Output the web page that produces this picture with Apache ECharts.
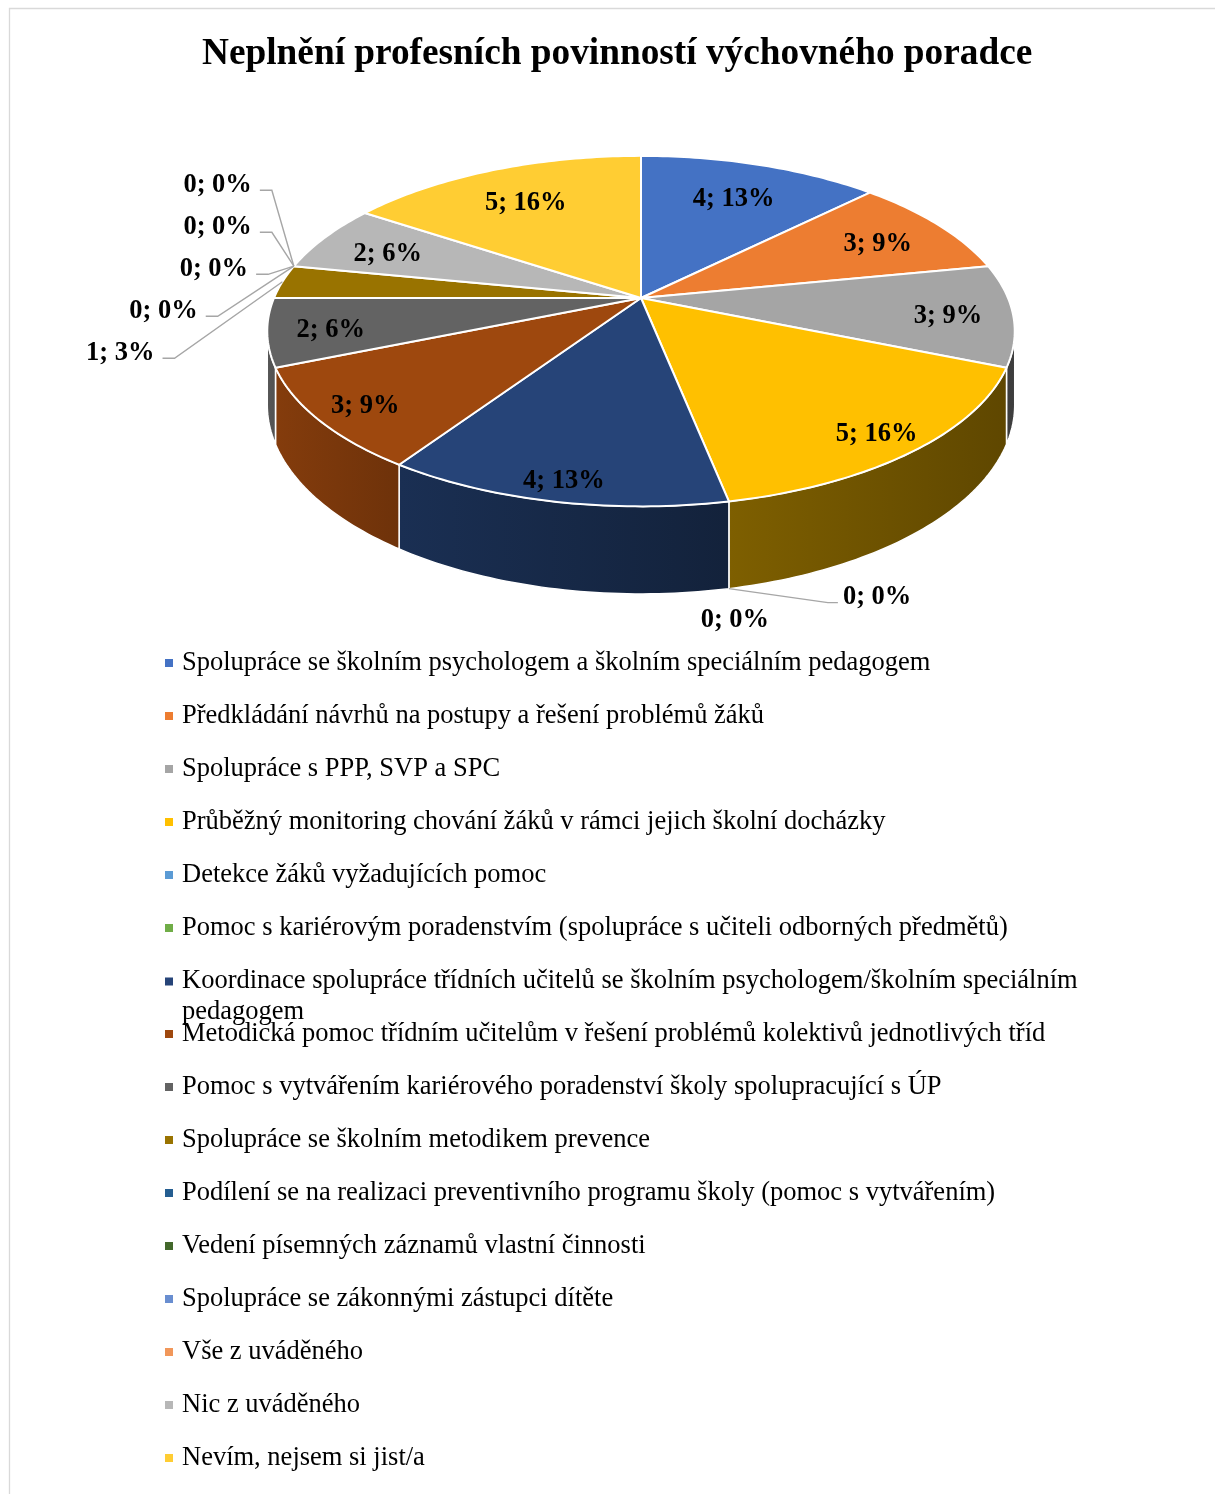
<!DOCTYPE html>
<html>
<head>
<meta charset="utf-8">
<script src="https://cdn.jsdelivr.net/npm/echarts@6/dist/echarts.min.js"></script>
<style>
  html, body { margin: 0; padding: 0; background: #fff; }
  #main { width: 1215px; height: 1494px; }
</style>
</head>
<body>
<div id="main"></div>
<script>
var categories = [
  'Spolupráce se školním psychologem a školním speciálním pedagogem',
  'Předkládání návrhů na postupy a řešení problémů žáků',
  'Spolupráce s PPP, SVP a SPC',
  'Průběžný monitoring chování žáků v rámci jejich školní docházky',
  'Detekce žáků vyžadujících pomoc',
  'Pomoc s kariérovým poradenstvím (spolupráce s učiteli odborných předmětů)',
  'Koordinace spolupráce třídních učitelů se školním psychologem/školním speciálním pedagogem',
  'Metodická pomoc třídním učitelům v řešení problémů kolektivů jednotlivých tříd',
  'Pomoc s vytvářením kariérového poradenství školy spolupracující s ÚP',
  'Spolupráce se školním metodikem prevence',
  'Podílení se na realizaci preventivního programu školy (pomoc s vytvářením)',
  'Vedení písemných záznamů vlastní činnosti',
  'Spolupráce se zákonnými zástupci dítěte',
  'Vše z uváděného',
  'Nic z uváděného',
  'Nevím, nejsem si jist/a'
];
var counts = [4, 3, 3, 5, 0, 0, 4, 3, 2, 1, 0, 0, 0, 0, 2, 5];
var palette = ['#4472C4', '#ED7D31', '#A5A5A5', '#FFC000', '#5B9BD5', '#70AD47', '#264478', '#9E480E',
  '#636363', '#997300', '#255E91', '#43682B', '#698ED0', '#F1975A', '#B7B7B7', '#FFCD33'];

var serif = "'Times New Roman', 'Liberation Serif', serif";
var myChart = echarts.init(document.getElementById('main'));

// 3D pie geometry (perspective tilted disc)
var CX = 641, CY = 298, RX = 367, RY = 169, PERSP = 0.189, DEPTH = 71;
function project(deg, r, z) {
  var t = deg * Math.PI / 180;
  var u = r * Math.sin(t), v = r * Math.cos(t);
  var w = 1 + PERSP * v;
  return [CX + RX * u / w, CY - RY * v / w + DEPTH * z / w];
}
function shade(hex, f) {
  var n = parseInt(hex.slice(1), 16);
  return 'rgb(' + Math.round(((n >> 16) & 255) * f) + ',' + Math.round(((n >> 8) & 255) * f) + ',' + Math.round((n & 255) * f) + ')';
}
function wallLight(deg) {
  var t = deg * Math.PI / 180;
  return 0.64 - 0.25 * Math.sin(t) + 0.1 * Math.cos(t);
}

var total = counts.reduce(function (a, b) { return a + b; }, 0);
var starts = [];
var acc = 0;
counts.forEach(function (v) { starts.push(acc / total * 360); acc += v; });
function labelText(v) { return v + '; ' + Math.round(v / total * 100) + '%'; }

// visible outer wall range
var wallFrom = Math.acos(-PERSP) * 180 / Math.PI;
var wallTo = 360 - wallFrom;

// small slices get outside labels with leader lines
var outerLabels = {};
var sideGroup = [], frontGroup = [];
counts.forEach(function (v, i) {
  if (v / total >= 0.04) return;
  var mid = starts[i] + v / total * 180;
  if (Math.cos(mid * Math.PI / 180) < -0.3) frontGroup.push({ i: i, anchor: project(mid, 1, 1) });
  else sideGroup.push({ i: i, anchor: project(mid, 1, 0) });
});
sideGroup.sort(function (a, b) { return b.i - a.i; });
var meanY = 0;
sideGroup.forEach(function (d) { meanY += d.anchor[1] / sideGroup.length; });
sideGroup.forEach(function (d, j) {
  var y = meanY + (j - (sideGroup.length - 1) / 2) * 42;
  var ex = d.anchor[0] - 22 - 1.2 * Math.max(0, y - d.anchor[1]);
  outerLabels[d.i] = { x: ex - 20, y: y, align: 'right', line: [d.anchor, [ex, y + 5], [ex - 12, y + 5]] };
});
frontGroup.forEach(function (d, j) {
  if (j === 0) {
    outerLabels[d.i] = { x: d.anchor[0] + 6, y: d.anchor[1] + 32, align: 'center', line: null };
  } else {
    var lx = d.anchor[0] + 114 + (j - 1) * 100, y = d.anchor[1] + 9;
    outerLabels[d.i] = { x: lx, y: y, align: 'left', line: [d.anchor, [lx - 15, y + 5], [lx - 5, y + 5]] };
  }
});

function renderWall(params, api) {
  var i = params.dataIndex;
  var v = api.value(1);
  var a0 = Math.max(starts[i], wallFrom), a1 = Math.min(starts[i] + v / total * 360, wallTo);
  if (!(v > 0) || a1 <= a0) return null;
  var pts = [];
  for (var d = a0; d < a1; d += 1) pts.push(project(d, 1, 0));
  pts.push(project(a1, 1, 0));
  for (var e = a1; e > a0; e -= 1) pts.push(project(e, 1, 1));
  pts.push(project(a0, 1, 1));
  var xl = project(a1, 1, 0)[0], xr = project(a0, 1, 0)[0];
  return {
    type: 'polygon',
    shape: { points: pts },
    style: {
      fill: new echarts.graphic.LinearGradient(xl, 0, xr, 0, [
        { offset: 0, color: shade(palette[i], wallLight(a1)) },
        { offset: 1, color: shade(palette[i], wallLight(a0)) }
      ], true),
      stroke: '#fff', lineWidth: 1.5, lineJoin: 'round'
    }
  };
}

function renderTop(params, api) {
  var i = params.dataIndex;
  var v = api.value(1);
  var children = [];
  var a0 = starts[i], a1 = starts[i] + v / total * 360;
  if (v > 0) {
    var pts = [[CX, CY]];
    for (var d = a0; d < a1; d += 1) pts.push(project(d, 1, 0));
    pts.push(project(a1, 1, 0));
    children.push({
      type: 'polygon',
      shape: { points: pts },
      style: { fill: palette[i], stroke: '#fff', lineWidth: 2, lineJoin: 'round' }
    });
  }
  var font = { fontFamily: serif, fontWeight: 'bold', fontSize: 26.5, fill: '#000', verticalAlign: 'middle' };
  var ol = outerLabels[i];
  if (ol) {
    if (ol.line) {
      children.push({
        type: 'polyline', z2: 5,
        shape: { points: ol.line },
        style: { stroke: '#a6a6a6', lineWidth: 1.4, fill: null }
      });
    }
    children.push({ type: 'text', x: ol.x, y: ol.y, z2: 10,
      style: echarts.util.extend({ text: labelText(v), align: ol.align }, font) });
  } else {
    var mid = (a0 + a1) / 2;
    var p = project(mid, 0.82 - 0.08 * Math.cos(mid * Math.PI / 180), 0);
    children.push({ type: 'text', x: p[0], y: p[1] + 4, z2: 10,
      style: echarts.util.extend({ text: labelText(v), align: 'center' }, font) });
  }
  return { type: 'group', children: children };
}

// wrap long legend names at word boundaries (max width like the original text box)
var measureCtx = document.createElement('canvas').getContext('2d');
measureCtx.font = '26.5px ' + serif;
function wrapName(name) {
  var words = name.split(' '), lines = [], cur = '';
  words.forEach(function (w) {
    var t = cur ? cur + ' ' + w : w;
    if (cur && measureCtx.measureText(t).width > 920) { lines.push(cur); cur = w; } else { cur = t; }
  });
  lines.push(cur);
  return lines.join('\n');
}

var seriesData = counts.map(function (v, i) { return [i, v]; });
var legendText = {
  fontFamily: serif, fontSize: 26.5, color: '#000', lineHeight: 31, padding: [0, 0, 0, 4]
};
var ROW = 53, LEG_TOP = 647.5;
function legendBlock(names, firstRow, extra) {
  return echarts.util.extend({
    orient: 'vertical', left: 165, top: LEG_TOP + firstRow * ROW, padding: 0, itemGap: ROW - 31,
    itemWidth: 8, itemHeight: 8, icon: 'rect', selectedMode: false,
    data: names, formatter: wrapName, textStyle: legendText
  }, extra || {});
}

option = {
  animation: false,
  color: palette,
  title: {
    text: 'Neplnění profesních povinností výchovného poradce',
    left: 202,
    top: 36,
    padding: 0,
    textStyle: { fontFamily: serif, fontWeight: 'bold', fontSize: 37.3, color: '#000' }
  },
  graphic: [{
    type: 'rect', silent: true,
    shape: { x: 9.5, y: 8.5, width: 1400, height: 1600 },
    style: { fill: null, stroke: '#d9d9d9', lineWidth: 1.3 }
  }],
  legend: [
    legendBlock(categories.slice(0, 6), 0, { height: 330 }),
    // two-line entry: marker sits on the first line, second line spills into the next row
    legendBlock([{
      name: categories[6],
      icon: 'path://M0,0L8,0L8,8L0,8Z M0,37.99L0.01,37.99L0.01,38L0,38Z'
    }], 6, { itemHeight: 38, height: 70 }),
    legendBlock(categories.slice(7), 7, { height: 475 })
  ],
  series: [
    {
      type: 'custom', name: 'walls', coordinateSystem: 'none', silent: true,
      renderItem: renderWall, data: seriesData
    },
    {
      type: 'custom', name: 'top', coordinateSystem: 'none', silent: true,
      renderItem: renderTop, data: seriesData
    },
    {
      // provides the legend entries (names + colours)
      type: 'pie', radius: 0, center: [CX, CY], silent: true,
      label: { show: false }, labelLine: { show: false },
      data: categories.map(function (c, i) { return { name: c, value: counts[i] }; })
    }
  ]
};
myChart.setOption(option);
</script>
</body>
</html>
